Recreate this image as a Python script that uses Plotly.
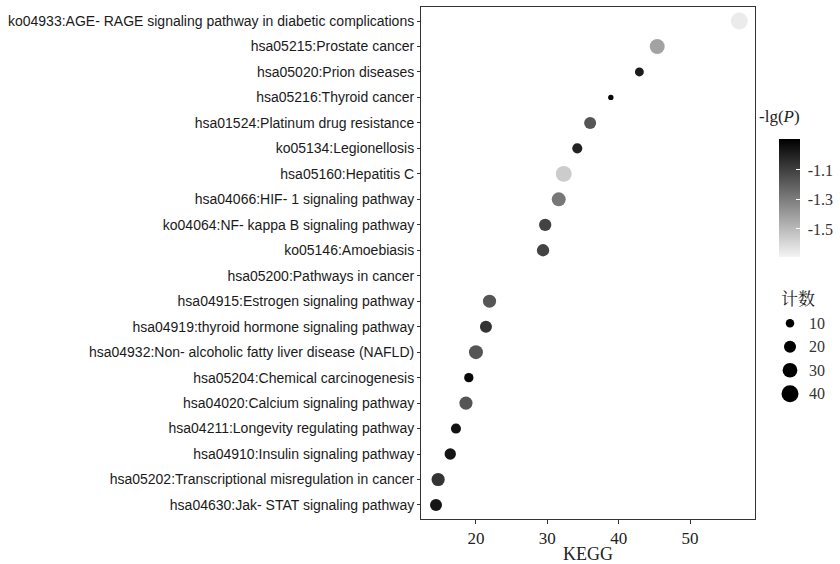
import plotly.graph_objects as go

pathways = [
    "ko04933:AGE- RAGE signaling pathway in diabetic complications",
    "hsa05215:Prostate cancer",
    "hsa05020:Prion diseases",
    "hsa05216:Thyroid cancer",
    "hsa01524:Platinum drug resistance",
    "ko05134:Legionellosis",
    "hsa05160:Hepatitis C",
    "hsa04066:HIF- 1 signaling pathway",
    "ko04064:NF- kappa B signaling pathway",
    "ko05146:Amoebiasis",
    "hsa05200:Pathways in cancer",
    "hsa04915:Estrogen signaling pathway",
    "hsa04919:thyroid hormone signaling pathway",
    "hsa04932:Non- alcoholic fatty liver disease (NAFLD)",
    "hsa05204:Chemical carcinogenesis",
    "hsa04020:Calcium signaling pathway",
    "hsa04211:Longevity regulating pathway",
    "hsa04910:Insulin signaling pathway",
    "hsa05202:Transcriptional misregulation in cancer",
    "hsa04630:Jak- STAT signaling pathway",
]
kegg = [56.9, 45.4, 42.9, 38.9, 36.0, 34.2, 32.3, 31.6, 29.7, 29.4,
        None, 21.9, 21.4, 20.0, 19.0, 18.6, 17.2, 16.4, 14.7, 14.4]
counts = [40, 31, 11, 4, 20, 14, 35, 27, 21, 21,
          None, 24, 20, 27, 12, 24, 14, 18, 24, 20]
neg_lg_p = [-1.66, -1.42, -0.98, -0.91, -1.17, -1.00, -1.56, -1.28, -1.11, -1.11,
            None, -1.17, -1.06, -1.17, -0.92, -1.17, -0.95, -0.96, -1.06, -0.96]

size_legend_values = [10, 20, 30, 40]
color_ticks = [-1.1, -1.3, -1.5]

MAX_DIAM = 17.0
SIZEREF = 2.0 * 40 / MAX_DIAM ** 2
CMIN, CMAX = -1.69, -0.89
SERIF = "Liberation Serif, Times New Roman, serif"

# the row without a value keeps its category but draws no mark (x is None)
sizes_for_plot = [c if c is not None else 0 for c in counts]
colors_for_plot = [v if v is not None else CMIN for v in neg_lg_p]

PW = 840 - 421 - 10   # paper width in px
PH = 564 - 7 - 45     # paper height in px


def px_x(px):
    return (px - 421) / PW


def px_y(py):
    return (519 - py) / PH


fig = go.Figure()

fig.add_trace(go.Scatter(
    x=kegg, y=pathways, mode="markers",
    marker=dict(
        size=sizes_for_plot, sizemode="area", sizeref=SIZEREF,
        color=colors_for_plot, cmin=CMIN, cmax=CMAX,
        colorscale=[[0, "#f4f4f4"], [1, "#000000"]],
        line=dict(width=0), opacity=1,
        colorbar=dict(
            tickvals=color_ticks,
            ticktext=["&nbsp;" + str(t) for t in color_ticks],
            ticks="inside", ticklen=4, tickcolor="#ffffff",
            tickfont=dict(family=SERIF, size=16, color="#333"),
            thickness=21, lenmode="pixels", len=118,
            x=px_x(779), xanchor="left", xpad=0,
            y=px_y(198), yanchor="middle", ypad=0,
            outlinewidth=0,
        ),
    ),
    showlegend=False, hoverinfo="x+y",
))

# size legend
fig.add_trace(go.Scatter(
    x=[20] * len(size_legend_values), y=[1, 2, 3, 4], mode="markers",
    marker=dict(size=size_legend_values, sizemode="area", sizeref=SIZEREF,
                color="#000000", line=dict(width=0), opacity=1),
    xaxis="x2", yaxis="y2", showlegend=False, hoverinfo="skip",
))
for i, v in enumerate(size_legend_values):
    fig.add_annotation(x=37, y=i + 1, xref="x2", yref="y2", text=str(v),
                       showarrow=False, xanchor="left", yanchor="middle",
                       font=dict(family=SERIF, size=16, color="#333"))

fig.add_annotation(x=px_x(779), y=px_y(297), xref="paper", yref="paper", text="计数",
                   showarrow=False, xanchor="left", yanchor="middle",
                   font=dict(family="Noto Serif CJK SC, Noto Sans CJK SC", size=17, color="#222"))
fig.add_annotation(x=px_x(757), y=px_y(116), xref="paper", yref="paper",
                   text="-lg(<i>P</i>)",
                   showarrow=False, xanchor="left", yanchor="middle",
                   font=dict(family=SERIF, size=17, color="#222"))

fig.update_layout(
    width=840, height=564,
    margin=dict(l=421, r=10, t=7, b=45, autoexpand=False),
    paper_bgcolor="white", plot_bgcolor="white",
    xaxis=dict(
        domain=[0, px_x(755)], range=[12.3, 59.1],
        tickvals=[20, 30, 40, 50], ticks="outside", ticklen=4, tickcolor="#333",
        tickfont=dict(family=SERIF, size=17, color="#222"),
        showgrid=False, zeroline=False, automargin=False,
        showline=True, linecolor="#333", linewidth=1, mirror=True,
        title=dict(text="KEGG", font=dict(family=SERIF, size=18, color="#222"), standoff=0),
    ),
    yaxis=dict(
        type="category", categoryorder="array", categoryarray=pathways,
        range=[len(pathways) - 0.45, -0.55], automargin=False,
        ticks="outside", ticklen=3, tickcolor="#333",
        tickfont=dict(family="Liberation Sans, Arial, sans-serif", size=14, color="#1a1a1a"),
        showgrid=False, zeroline=False,
        showline=True, linecolor="#333", linewidth=1, mirror=True,
    ),
    xaxis2=dict(domain=[px_x(770), px_x(830)], range=[0, 60],
                visible=False, fixedrange=True),
    yaxis2=dict(domain=[px_y(405.5), px_y(311.5)], range=[4.5, 0.5],
                visible=False, fixedrange=True),
)

fig.write_html("out.html", config={"displayModeBar": False},
               post_script="document.body.style.margin='0';")
